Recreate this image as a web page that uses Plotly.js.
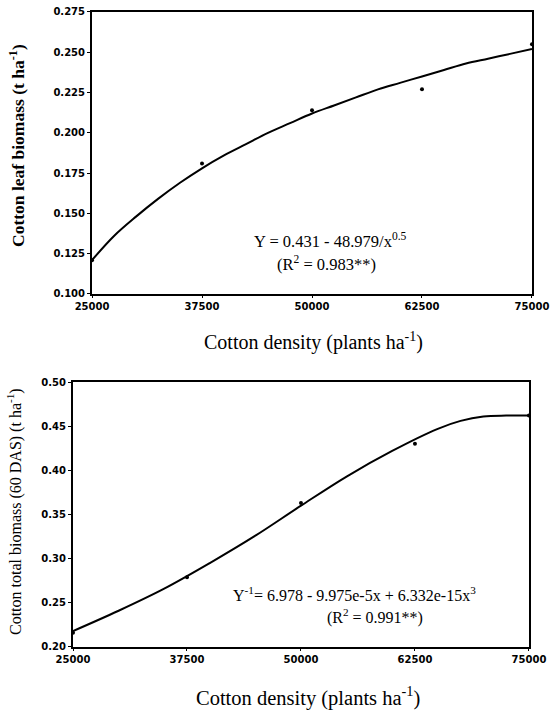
<!DOCTYPE html>
<html>
<head>
<meta charset="utf-8">
<script src="https://cdn.plot.ly/plotly-3.0.1.min.js"></script>
<style>html,body{margin:0;padding:0;background:#fff;}#chart{width:551px;height:713px;}</style>
</head>
<body>
<div id="chart"></div>
<script>
// Shared x tick values / labels
var xTicks = [25000, 37500, 50000, 62500, 75000];
var xTickLabels = ["25000", "37500", "50000", "62500", "75000"];

// Top panel: cotton leaf biomass
var leafObsX = [25000, 37500, 50000, 62500, 75000];
var leafObsY = [0.121, 0.181, 0.214, 0.227, 0.255];
var leafFitX = [25000, 27500, 30000, 32500, 35000, 37500, 40000, 42500, 45000, 47500, 50000, 52500, 55000, 57500, 60000, 62500, 65000, 67500, 70000, 72500, 75000];
var leafFitY = [0.121, 0.136, 0.148, 0.159, 0.169, 0.178, 0.186, 0.193, 0.200, 0.206, 0.212, 0.217, 0.222, 0.227, 0.231, 0.235, 0.239, 0.243, 0.246, 0.249, 0.252];
var leafYTicks = [0.100, 0.125, 0.150, 0.175, 0.200, 0.225, 0.250, 0.275];
var leafYLabels = ["0.100", "0.125", "0.150", "0.175", "0.200", "0.225", "0.250", "0.275"];

// Bottom panel: cotton total biomass (60 DAS)
var totObsX = [25000, 37500, 50000, 62500, 75000];
var totObsY = [0.216, 0.279, 0.363, 0.430, 0.462];
var totFitX = [25000, 30000, 35000, 40000, 45000, 50000, 55000, 60000, 65000, 67500, 70000, 72500, 75000];
var totFitY = [0.218, 0.241, 0.266, 0.295, 0.326, 0.360, 0.393, 0.422, 0.447, 0.456, 0.461, 0.462, 0.462];
var totYTicks = [0.20, 0.25, 0.30, 0.35, 0.40, 0.45, 0.50];
var totYLabels = ["0.20", "0.25", "0.30", "0.35", "0.40", "0.45", "0.50"];

var tickFont = {family: "DejaVu Sans, Arial, sans-serif", size: 10, color: "#000", weight: "bold"};
var serif = "Liberation Serif, Times New Roman, serif";

var traces = [
  {x: leafFitX, y: leafFitY, mode: "lines", line: {color: "#000", width: 2, shape: "spline"}, xaxis: "x", yaxis: "y", hoverinfo: "skip"},
  {x: leafObsX, y: leafObsY, mode: "markers", marker: {color: "#000", size: 4}, xaxis: "x", yaxis: "y", cliponaxis: false},
  {x: totFitX, y: totFitY, mode: "lines", line: {color: "#000", width: 2, shape: "spline"}, xaxis: "x2", yaxis: "y2", hoverinfo: "skip"},
  {x: totObsX, y: totObsY, mode: "markers", marker: {color: "#000", size: 4}, xaxis: "x2", yaxis: "y2", cliponaxis: false}
];

function xa(domain, anchor) {
  return {
    domain: domain, anchor: anchor, range: [25000, 75000],
    tickvals: xTicks, ticktext: xTickLabels, tickfont: tickFont,
    showline: true, linecolor: "#000", linewidth: 2, mirror: true,
    ticks: "outside", ticklen: 2, tickcolor: "#000", showgrid: false, zeroline: false
  };
}
function ya(domain, anchor, range, tv, tt) {
  return {
    domain: domain, anchor: anchor, range: range,
    tickvals: tv, ticktext: tt, tickfont: tickFont,
    showline: true, linecolor: "#000", linewidth: 2, mirror: true,
    ticks: "outside", ticklen: 3, tickcolor: "#000", showgrid: false, zeroline: false
  };
}

function note(px, py, text, size, bold, angle) {
  var f = {family: serif, size: size, color: "#000"};
  if (bold) f.weight = "bold";
  return {xref: "paper", yref: "paper", x: px / 551, y: 1 - py / 713, text: text,
          xanchor: "center", yanchor: "middle", textangle: angle || 0, showarrow: false, font: f};
}

var layout = {
  width: 551, height: 713,
  margin: {l: 0, r: 0, t: 0, b: 0},
  paper_bgcolor: "#fff", plot_bgcolor: "#fff",
  showlegend: false,
  xaxis: xa([0.167, 0.9655], "y"),
  yaxis: ya([0.5877, 0.9832], "x", [0.100, 0.275], leafYTicks, leafYLabels),
  xaxis2: xa([0.1325, 0.960], "y2"),
  yaxis2: ya([0.0926, 0.4642], "x2", [0.20, 0.50], totYTicks, totYLabels),
  annotations: [
    note(17, 146, "Cotton leaf biomass (t ha<sup>-1</sup>)", 17.5, true, -90),
    note(313, 341, "Cotton density (plants ha<sup>-1</sup>)", 20, false),
    note(14, 512, "Cotton total biomass (60 DAS) (t ha<sup>-1</sup>)", 16, false, -90),
    note(308, 696, "Cotton density (plants ha<sup>-1</sup>)", 20.5, false),
    note(330, 240, "Y = 0.431 - 48.979/x<sup>0.5</sup>", 16.5, false),
    note(326, 263, "(R<sup>2</sup> = 0.983**)", 16.5, false),
    note(354, 594, "Y<sup>-1</sup>= 6.978 - 9.975e-5x + 6.332e-15x<sup>3</sup>", 16, false),
    note(375, 616, "(R<sup>2</sup> = 0.991**)", 16, false)
  ]
};

Plotly.newPlot("chart", traces, layout, {staticPlot: true, displayModeBar: false});
</script>
</body>
</html>
